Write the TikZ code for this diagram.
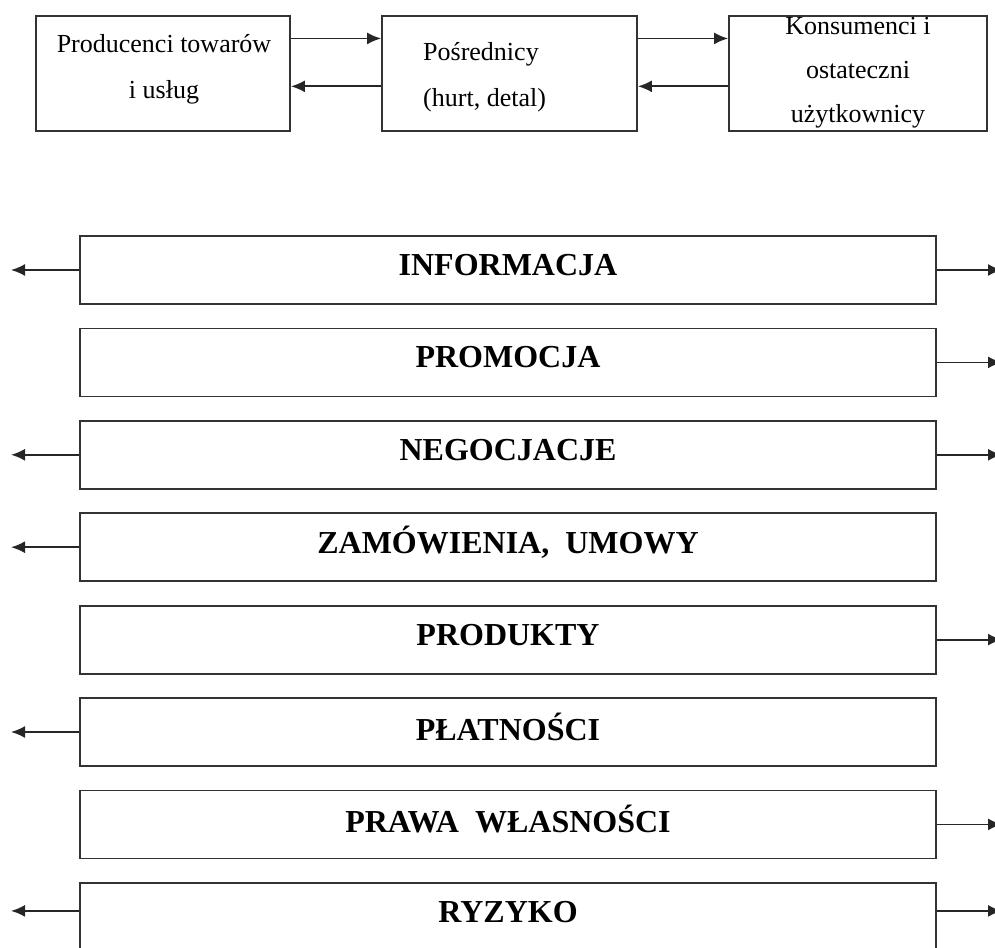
\documentclass[tikz,border=0pt]{standalone}
\usepackage{fontspec}
\setmainfont{Liberation Serif}
\usetikzlibrary{positioning, calc, arrows.meta}
\tikzset{firm/.style={draw=black!80, line width=1.8pt, minimum height=115pt, inner sep=0pt}}
\tikzset{flowbox/.style={draw=black!80, line width=1.8pt, minimum width=856pt, minimum height=68pt, inner sep=0pt}}
\tikzset{flowname/.style={font=\fontsize{32}{36}\bfseries\selectfont, anchor=center}}
\tikzset{firmtext/.style={font=\fontsize{26}{46}\selectfont, inner sep=0pt}}
\tikzset{flow/.style={draw=black!85, line width=1.8pt, -{Latex[length=14pt, width=12pt]}}}

\begin{document}
\begin{tikzpicture}[x=1pt, y=-1pt]
  \clip (0,0) rectangle (995,947);

  % uczestnicy kanalu
  \node[firm, minimum width=254pt] (prod) at (163,73.5) {};
  \node[firm, minimum width=255pt] (inter) at (509.5,73.5) {};
  \node[firm, minimum width=258pt] (cons) at (858,73.5) {};
  \node[firmtext, align=center] (prodtxt) at (164,69) {Producenci towarów\\i usług};
  \node[firmtext, align=left, anchor=west] (intertxt) at (423,77.5) {Pośrednicy\\(hurt, detal)};
  \node[firmtext, align=center, font=\fontsize{26}{44}\selectfont] (constxt) at (858,73) {Konsumenci i\\ostateczni\\użytkownicy};

  \draw[flow] ($(prod.north east)!.2!(prod.south east)$) -- ($(inter.north west)!.2!(inter.south west)$);
  \draw[flow] ($(inter.north west)!.61!(inter.south west)$) -- ($(prod.north east)!.61!(prod.south east)$);
  \draw[flow] ($(inter.north east)!.2!(inter.south east)$) -- ($(cons.north west)!.2!(cons.south west)$);
  \draw[flow] ($(cons.north west)!.61!(cons.south west)$) -- ($(inter.north east)!.61!(inter.south east)$);

  % przeplywy
  \node[flowbox] (info) at (508,270) {};
  \node[flowbox, below=22.6pt of info] (promo) {};
  \node[flowbox, below=22.6pt of promo] (nego) {};
  \node[flowbox, below=22.6pt of nego] (order) {};
  \node[flowbox, below=22.6pt of order] (goods) {};
  \node[flowbox, below=22.6pt of goods] (pay) {};
  \node[flowbox, below=22.6pt of pay] (title) {};
  \node[flowbox, below=22.6pt of title] (risk) {};

  \node[flowname] (infotxt) at ($(info.north)+(0,30)$) {INFORMACJA};
  \node[flowname] (promotxt) at ($(promo.north)+(0,30)$) {PROMOCJA};
  \node[flowname] (negotxt) at ($(nego.north)+(0,30)$) {NEGOCJACJE};
  \node[flowname] (ordertxt) at ($(order.north)+(0,30)$) {ZAMÓWIENIA,\ \ UMOWY};
  \node[flowname] (goodstxt) at ($(goods.north)+(0,30)$) {PRODUKTY};
  \node[flowname] (paytxt) at ($(pay.north)+(0,30)$) {PŁATNOŚCI};
  \node[flowname] (titletxt) at ($(title.north)+(0,30)$) {PRAWA\ \ WŁASNOŚCI};
  \node[flowname] (risktxt) at ($(risk.north)+(0,30)$) {RYZYKO};

  \coordinate (lend) at (11,0);
  \coordinate (rend) at (1002,0);

  \draw[flow] (info.west) -- (info.west -| lend);
  \draw[flow] (info.east) -- (info.east -| rend);
  \draw[flow] (promo.east) -- (promo.east -| rend);
  \draw[flow] (nego.west) -- (nego.west -| lend);
  \draw[flow] (nego.east) -- (nego.east -| rend);
  \draw[flow] (order.west) -- (order.west -| lend);
  \draw[flow] (goods.east) -- (goods.east -| rend);
  \draw[flow] (pay.west) -- (pay.west -| lend);
  \draw[flow] (title.east) -- (title.east -| rend);
  \draw[flow] ($(risk.north west)+(0,29)$) -- ($(risk.north west -| lend)+(0,29)$);
  \draw[flow] ($(risk.north east)+(0,29)$) -- ($(risk.north east -| rend)+(0,29)$);
\end{tikzpicture}
\end{document}
